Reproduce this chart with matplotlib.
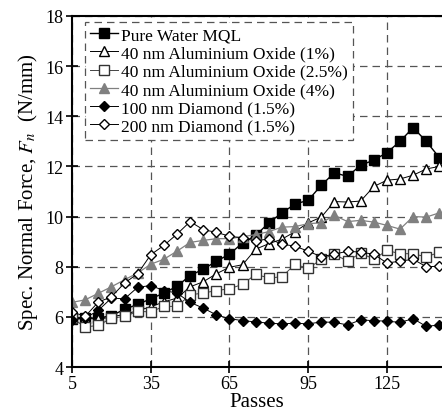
import matplotlib
matplotlib.use("Agg")
import matplotlib.pyplot as plt

plt.rcParams['font.family'] = ['Liberation Serif', 'DejaVu Serif']
plt.rcParams['mathtext.fontset'] = 'stix'

passes = list(range(5, 150, 5))

pure_water = [5.93, 5.95, 5.95, 6.05, 6.3, 6.5, 6.72, 6.95, 7.22, 7.65, 7.9, 8.22, 8.5,
              8.95, 9.25, 9.75, 10.15, 10.5, 10.65, 11.25, 11.75, 11.6, 12.05, 12.25,
              12.55, 13.0, 13.55, 13.0, 12.35]
al2o3_1 = [6.0, 5.95, 5.9, 6.0, 6.1, 6.25, 6.4, 6.6, 6.75, 7.2, 7.4, 7.72, 7.98, 8.08,
           8.7, 8.92, 9.1, 9.4, 9.75, 9.98, 10.6, 10.58, 10.62, 11.2, 11.45, 11.5,
           11.65, 11.9, 12.0]
al2o3_25 = [5.95, 5.6, 5.66, 5.95, 6.02, 6.22, 6.2, 6.42, 6.42, 6.88, 6.95, 7.05, 7.12,
            7.3, 7.7, 7.55, 7.6, 8.1, 7.93, 8.3, 8.5, 8.22, 8.55, 8.3, 8.65, 8.52,
            8.52, 8.39, 8.58]
al2o3_4 = [6.58, 6.68, 6.94, 7.2, 7.48, 7.75, 8.1, 8.3, 8.62, 8.97, 9.05, 9.12, 9.12,
           9.2, 9.28, 9.4, 9.58, 9.6, 9.72, 9.75, 10.05, 9.8, 9.85, 9.78, 9.65, 9.5,
           10.0, 9.98, 10.15]
diamond_100 = [5.88, 5.95, 6.26, 6.75, 6.72, 7.18, 7.25, 7.05, 6.95, 6.58, 6.35, 6.08,
               5.93, 5.85, 5.8, 5.75, 5.72, 5.75, 5.72, 5.8, 5.78, 5.68, 5.88, 5.85,
               5.83, 5.78, 5.93, 5.62, 5.68]
diamond_200 = [6.2, 6.02, 6.59, 6.8, 7.35, 7.72, 8.48, 8.85, 9.3, 9.8, 9.48, 9.37, 9.22,
               9.15, 9.02, 9.12, 8.9, 8.82, 8.62, 8.4, 8.5, 8.62, 8.58, 8.5, 8.15, 8.22,
               8.3, 8.0, 8.02]

labels = ["Pure Water MQL", "40 nm Aluminium Oxide (1%)", "40 nm Aluminium Oxide (2.5%)",
          "40 nm Aluminium Oxide (4%)", "100 nm Diamond (1.5%)", "200 nm Diamond (1.5%)"]

fig = plt.figure(figsize=(4.42, 4.14), dpi=100)
ax = fig.add_axes([0.163, 0.111, 0.837, 0.848])

ax.plot(passes, pure_water, '-s', color='black', mfc='black', ms=7, lw=1.0, label=labels[0])
ax.plot(passes, al2o3_1, '-^', color='black', mfc='white', ms=7, lw=0.7, label=labels[1])
ax.plot(passes, al2o3_25, '-s', color='#444444', mfc='white', mec='#333333', ms=7.5, lw=0.7, label=labels[2])
ax.plot(passes, al2o3_4, '-^', color='#808080', mfc='#808080', mec='#808080', ms=7, lw=0.9, label=labels[3])
ax.plot(passes, diamond_100, '-D', color='black', mfc='black', ms=5.5, lw=0.7, label=labels[4])
ax.plot(passes, diamond_200, '-D', color='black', mfc='white', ms=5.5, lw=0.7, label=labels[5])

ax.set_xlim(5, 146)
ax.set_ylim(4, 18)
ax.set_xticks([5, 35, 65, 95, 125])
ax.set_yticks(range(4, 19, 2))
ax.grid(True, linestyle=(0, (6, 4)), color='#555555', lw=0.9)
ax.set_axisbelow(True)
ax.tick_params(direction='inout', length=8, width=1.2, labelsize=13, colors='black', pad=2)
ax.spines['right'].set_visible(False)
for s in ['left', 'bottom', 'top']:
    ax.spines[s].set_linewidth(1.5)

ax.set_xlabel("Passes", fontsize=15, labelpad=0)
ax.set_ylabel("Spec. Normal Force, $F_n$  (N/mm)", fontsize=15, labelpad=4)

leg = ax.legend(loc='upper left', bbox_to_anchor=(0.035, 0.983), borderaxespad=0,
                fontsize=12.5, handlelength=1.6, handletextpad=0.2, labelspacing=0.12,
                borderpad=0.3, fancybox=False, framealpha=1.0, edgecolor='#555555')
leg.get_frame().set_linestyle((0, (6, 4)))
leg.get_frame().set_linewidth(0.9)

fig.savefig("out.png", dpi=100)
